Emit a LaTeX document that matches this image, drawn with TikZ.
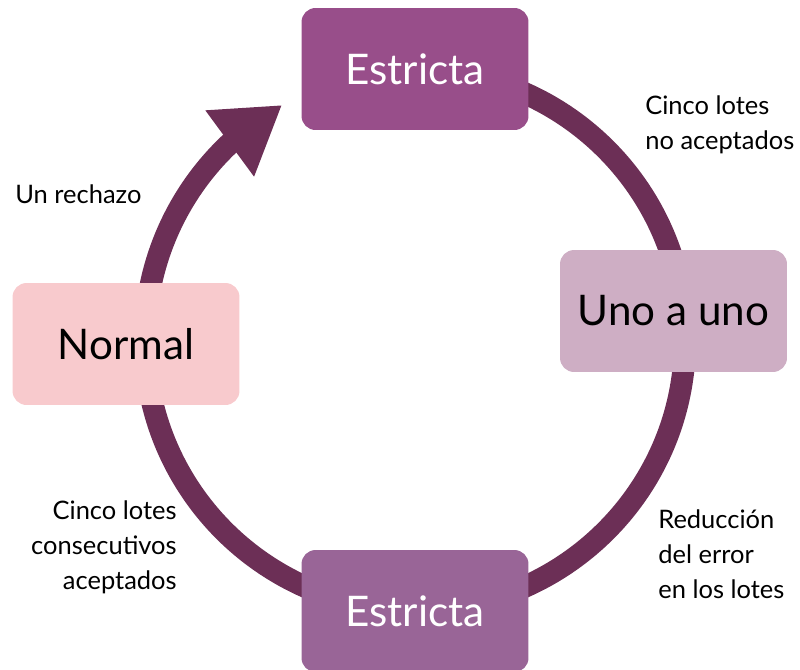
\documentclass[tikz,border=0pt]{standalone}
\usepackage{fontspec}
\setmainfont{Lato}
\usepackage{xcolor}
\usetikzlibrary{arrows.meta,bending,positioning}
\definecolor{ringc}{HTML}{6C2F56}
\definecolor{strict}{HTML}{984E8A}
\definecolor{strictb}{HTML}{996597}
\definecolor{onebyone}{HTML}{CEAEC4}
\definecolor{normalc}{HTML}{F8CACD}

\begin{document}
\begin{tikzpicture}[x=0.02cm, y=0.02cm,
  state/.style={rounded corners=8, minimum width=4.54cm, minimum height=2.44cm,
    inner sep=0pt, font=\fontsize{24}{29}\selectfont},
  lbl/.style={inner sep=0pt, font=\fontsize{14.5}{20}\selectfont}]
  \useasboundingbox (0,0) rectangle (800,-669);
  \coordinate (c) at (415,-340);
  \draw[ringc, line width=0.44cm, -{Triangle[length=1.3cm, width=1.55cm, flex]}]
  ([shift={(90:270)}]c) arc[start angle=90, end angle=-240.5, radius=270];
  \node[state, fill=strict, text=white]   (1) at (415,-69)   {Estricta};
  \node[state, fill=onebyone]             (2) at (673.5,-311) {Uno a uno};
  \node[state, fill=strictb, text=white]  (3) at (415,-611)  {Estricta};
  \node[state, fill=normalc]              (4) at (126,-344)  {Normal};
  \node[lbl, anchor=north west, align=left]  (a) at (645,-95)  {Cinco lotes\\no aceptados};
  \node[lbl, anchor=north west, align=left]  (b) at (658,-509) {Reducción\\del error\\en los lotes};
  \node[lbl, anchor=north east, align=right] (d) at (177,-500) {Cinco lotes\\consecutivos\\aceptados};
  \node[lbl, anchor=north west]              (e) at (15,-184)  {Un rechazo};
\end{tikzpicture}
\end{document}
